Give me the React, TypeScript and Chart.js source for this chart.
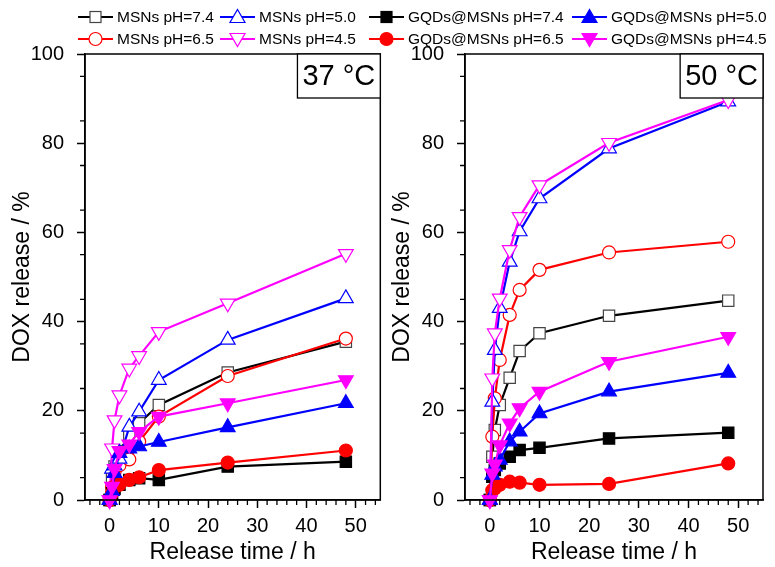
import React, { useEffect, useRef } from "react";
import { Chart, registerables } from "chart.js";
Chart.register(...registerables);

const times = [0, 0.5, 1, 2, 4, 6, 10, 24, 48];

const seriesNames = [
  "MSNs pH=7.4", "MSNs pH=6.5", "MSNs pH=5.0", "MSNs pH=4.5",
  "GQDs@MSNs pH=7.4", "GQDs@MSNs pH=6.5", "GQDs@MSNs pH=5.0", "GQDs@MSNs pH=4.5",
];

// 37 °C
const m74_37 = [0, 5.0, 7.5, 11.0, 14.5, 17.2, 21.3, 28.6, 35.5];
const m65_37 = [0, 2.8, 6.3, 7.8, 9.1, 13.1, 18.7, 27.8, 36.2];
const m50_37 = [0, 7.0, 7.7, 9.2, 16.4, 19.8, 26.9, 35.9, 45.2];
const m45_37 = [0, 11.6, 17.9, 23.5, 29.5, 32.3, 37.7, 44.1, 55.2];
const g74_37 = [0, 1.5, 2.5, 3.4, 4.5, 4.9, 4.5, 7.5, 8.6];
const g65_37 = [0, 1.5, 3.0, 3.4, 4.5, 5.1, 6.7, 8.4, 11.1];
const g50_37 = [0, 2.0, 6.0, 10.5, 11.5, 12.0, 13.0, 16.3, 21.7];
const g45_37 = [0, 3.0, 7.0, 11.0, 12.5, 15.3, 18.7, 21.7, 26.9];

// 50 °C
const m74_50 = [0, 9.7, 15.7, 21.3, 27.4, 33.4, 37.4, 41.3, 44.7];
const m65_50 = [0, 14.2, 22.8, 31.4, 41.5, 47.1, 51.6, 55.5, 57.9];
const m50_50 = [0, 22.0, 33.6, 43.0, 53.4, 60.2, 67.6, 78.8, 89.3];
const m45_50 = [0, 27.3, 37.4, 45.2, 56.1, 63.5, 70.6, 80.1, 89.7];
const g74_50 = [0, 5.2, 6.7, 8.2, 9.7, 11.2, 11.7, 13.8, 15.1];
const g65_50 = [0, 2.2, 2.6, 3.4, 4.1, 3.9, 3.4, 3.6, 8.2];
const g50_50 = [0, 5.6, 7.5, 9.0, 13.1, 15.3, 19.4, 24.3, 28.5];
const g45_50 = [0, 6.0, 8.0, 12.3, 17.2, 20.6, 24.3, 31.0, 36.6];

const xMajorTicks = [0, 10, 20, 30, 40, 50];
const yMajorTicks = [0, 20, 40, 60, 80, 100];

const FONT = "'Liberation Sans', Arial, sans-serif";

type Style = { color: string; shape: "rect" | "circle" | "up" | "down"; filled: boolean };
const styles: Style[] = [
  { color: "#000000", shape: "rect", filled: false },
  { color: "#ff0000", shape: "circle", filled: false },
  { color: "#0000ff", shape: "up", filled: false },
  { color: "#ff00ff", shape: "down", filled: false },
  { color: "#000000", shape: "rect", filled: true },
  { color: "#ff0000", shape: "circle", filled: true },
  { color: "#0000ff", shape: "up", filled: true },
  { color: "#ff00ff", shape: "down", filled: true },
];

function makeDatasets(series: number[][]) {
  return series.map((vals, i) => {
    const s = styles[i];
    const pointStyle = s.shape === "rect" ? "rect" : s.shape === "circle" ? "circle" : "triangle";
    const radius = s.shape === "rect" ? 8 : s.shape === "circle" ? 6.5 : 8.5;
    return {
      label: seriesNames[i],
      data: times.map((t, j) => ({ x: t, y: vals[j] })),
      borderColor: s.color,
      borderWidth: 2.2,
      pointStyle,
      pointRotation: s.shape === "down" ? 180 : 0,
      pointRadius: radius,
      pointBackgroundColor: s.filled ? s.color : "#ffffff",
      pointBorderColor: s.filled ? s.color : s.shape === "rect" ? "#444444" : s.color,
      pointBorderWidth: 1.2,
      tension: 0,
      clip: false as any,
      order: 7 - i,
    };
  });
}

const framePlugin = {
  id: "frame",
  afterDraw(chart: any) {
    const { ctx, chartArea } = chart;
    const xs = chart.scales.x;
    const ys = chart.scales.y;
    ctx.save();
    ctx.strokeStyle = "#000";
    ctx.lineWidth = 1.5;
    ctx.strokeRect(chartArea.left, chartArea.top, chartArea.right - chartArea.left, chartArea.bottom - chartArea.top);
    ctx.lineWidth = 1.3;
    ctx.beginPath();
    for (let v = -4; v <= 54; v += 2) {
      if (v % 10 === 0) continue;
      const px = xs.getPixelForValue(v);
      ctx.moveTo(px, chartArea.bottom);
      ctx.lineTo(px, chartArea.bottom + 5);
    }
    for (let v = 5; v < 100; v += 10) {
      const py = ys.getPixelForValue(v);
      ctx.moveTo(chartArea.left - 5, py);
      ctx.lineTo(chartArea.left, py);
    }
    ctx.stroke();
    // temperature label box
    const label = chart.options.plugins.frame.label;
    ctx.font = `29px ${FONT}`;
    const w = ctx.measureText(label).width + 10;
    const h = 44;
    ctx.fillStyle = "#fff";
    ctx.fillRect(chartArea.right - w, chartArea.top, w, h);
    ctx.lineWidth = 1.3;
    ctx.strokeRect(chartArea.right - w, chartArea.top, w, h);
    ctx.fillStyle = "#000";
    ctx.textAlign = "center";
    ctx.textBaseline = "middle";
    ctx.fillText(label, chartArea.right - w / 2, chartArea.top + h / 2 + 1);
    ctx.restore();
  },
};

function Panel({ series, label, left, width, padRight }: { series: number[][]; label: string; left: number; width: number; padRight: number }) {
  const ref = useRef<HTMLCanvasElement>(null);
  useEffect(() => {
    if (!ref.current) return;
    const chart = new Chart(ref.current, {
      type: "line",
      data: { datasets: makeDatasets(series) as any },
      plugins: [framePlugin],
      options: {
        responsive: false,
        animation: false,
        layout: { padding: { top: 54, right: padRight, bottom: 0, left: 0 } },
        plugins: {
          legend: { display: false },
          tooltip: { enabled: false },
          frame: { label },
        } as any,
        scales: {
          x: {
            type: "linear",
            min: -5,
            max: 55,
            afterBuildTicks: (s: any) => { s.ticks = xMajorTicks.map((v) => ({ value: v })); },
            afterFit: (s: any) => { s.height = 67; },
            grid: { drawOnChartArea: false, drawTicks: true, tickLength: 8, tickWidth: 1.5, tickColor: "#000" },
            border: { color: "#000", width: 1.5 },
            ticks: { color: "#000", font: { family: FONT, size: 20 }, padding: 6, maxRotation: 0 },
            title: { display: true, text: "Release time / h", color: "#000", font: { family: FONT, size: 23 }, padding: { top: 0, bottom: 1 } },
          },
          y: {
            type: "linear",
            min: 0,
            max: 100,
            afterBuildTicks: (s: any) => { s.ticks = yMajorTicks.map((v) => ({ value: v })); },
            afterFit: (s: any) => { s.width = 85; },
            grid: { drawOnChartArea: false, drawTicks: true, tickLength: 8, tickWidth: 1.5, tickColor: "#000" },
            border: { color: "#000", width: 1.5 },
            ticks: { color: "#000", font: { family: FONT, size: 20 }, padding: 13 },
            title: { display: true, text: "DOX release / %", color: "#000", font: { family: FONT, size: 23 }, padding: { top: 9, bottom: 0 } },
          },
        },
      } as any,
    });
    return () => chart.destroy();
  }, []);
  return (
    <canvas ref={ref} width={width} height={567} style={{ position: "absolute", left, top: 0, width, height: 567 }} />
  );
}

function Marker({ s }: { s: Style }) {
  const fill = s.filled ? s.color : "#fff";
  const stroke = s.shape === "rect" && !s.filled ? "#444" : s.color;
  let shape: any;
  if (s.shape === "rect") shape = <rect x={12} y={1.5} width={11} height={11} fill={fill} stroke={stroke} strokeWidth={1.2} />;
  else if (s.shape === "circle") shape = <circle cx={17.5} cy={7} r={6.5} fill={fill} stroke={stroke} strokeWidth={1.2} />;
  else if (s.shape === "up") shape = <polygon points="17.5,-0.5 25,12.5 10,12.5" fill={fill} stroke={stroke} strokeWidth={1.2} />;
  else shape = <polygon points="10,1.5 25,1.5 17.5,14.5" fill={fill} stroke={stroke} strokeWidth={1.2} />;
  return (
    <svg width={35} height={14} style={{ overflow: "visible", display: "block" }}>
      <line x1={0} y1={7} x2={35} y2={7} stroke={s.color} strokeWidth={2} />
      {shape}
    </svg>
  );
}

const legendCols = [78, 220, 369, 572];
const legendRows = [17, 39];

function Legend() {
  return (
    <>
      {seriesNames.map((name, i) => {
        const col = Math.floor(i / 2);
        const row = i % 2;
        return (
          <div key={name} style={{ position: "absolute", left: legendCols[col], top: legendRows[row] - 10, height: 20, display: "flex", alignItems: "center", gap: 4, whiteSpace: "nowrap", fontFamily: FONT, fontSize: 15.5, color: "#000" }}>
            <Marker s={styles[i]} />
            <span>{name}</span>
          </div>
        );
      })}
    </>
  );
}

export default function App() {
  return (
    <div style={{ position: "fixed", left: 0, top: 0, width: 775, height: 567, background: "#fff", overflow: "hidden" }}>
      <Panel series={[m74_37, m65_37, m50_37, m45_37, g74_37, g65_37, g50_37, g45_37]} label="37 °C" left={0} width={390} padRight={7} />
      <Panel series={[m74_50, m65_50, m50_50, m45_50, g74_50, g65_50, g50_50, g45_50]} label="50 °C" left={380} width={395} padRight={12} />
      <Legend />
    </div>
  );
}
